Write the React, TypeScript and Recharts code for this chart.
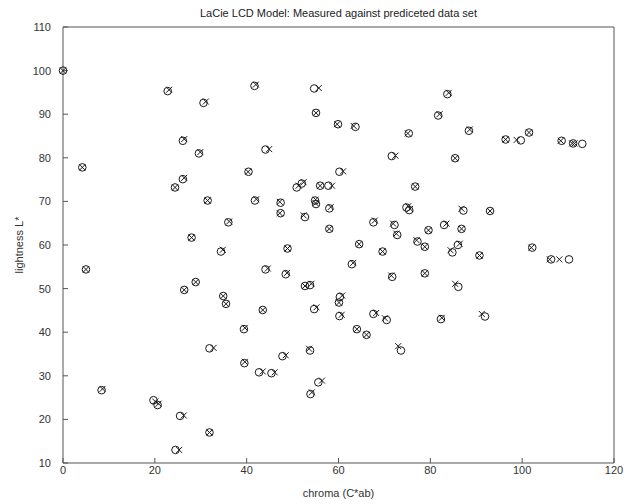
import { ScatterChart, Scatter, XAxis, YAxis } from "recharts";

const TITLE = "LaCie LCD Model: Measured against prediceted data set";
const X_TICKS = [0, 20, 40, 60, 80, 100, 120];
const Y_TICKS = [10, 20, 30, 40, 50, 60, 70, 80, 90, 100, 110];

// measured (circles)
const measuredC = [
  0, 22.8, 30.6, 26.1, 29.6, 4.2, 26.1, 24.4, 41.7, 54.7, 55.1, 59.9, 63.7, 75.3, 44.1, 71.6, 40.4, 60.2, 50.9, 52.0,
  56.0, 57.8, 76.7, 83.7, 81.7, 88.4, 101.5, 96.4, 99.7, 108.6, 111.1, 113.1, 85.4, 31.5, 36.0, 28.0, 34.4, 5.0, 28.9, 26.4,
  34.9, 35.5, 39.4, 41.8, 47.4, 47.4, 54.9, 55.1, 58.0, 52.7, 58.0, 74.8, 75.4, 67.6, 72.2, 72.8, 77.2, 78.8, 48.9, 64.5,
  69.6, 62.9, 44.1, 48.5, 71.7, 52.7, 53.8, 60.3, 60.1, 43.5, 54.7, 60.2, 67.6, 70.5, 64.0, 66.1, 87.2, 93.0, 83.0, 79.6,
  86.8, 86.0, 84.8, 90.7, 102.2, 106.3, 110.2, 78.8, 86.1, 82.3, 91.9, 31.9, 39.5, 8.4, 19.7, 20.6, 25.5, 31.9, 24.5, 73.6,
  42.7, 45.4, 47.8, 53.8, 55.6, 53.9,
];
const measuredL = [
  100, 95.3, 92.6, 83.9, 81.0, 77.8, 75.1, 73.2, 96.5, 95.9, 90.3, 87.7, 87.1, 85.6, 81.9, 80.4, 76.8, 76.8, 73.2, 74.1,
  73.6, 73.6, 73.4, 94.6, 89.7, 86.2, 85.8, 84.2, 84.0, 83.9, 83.3, 83.2, 79.9, 70.2, 65.2, 61.7, 58.5, 54.4, 51.5, 49.7,
  48.3, 46.5, 40.7, 70.2, 69.7, 67.3, 70.2, 69.4, 68.4, 66.4, 63.7, 68.6, 68.0, 65.2, 64.6, 62.3, 60.8, 59.6, 59.2, 60.2,
  58.5, 55.6, 54.4, 53.3, 52.7, 50.6, 50.8, 48.1, 46.8, 45.1, 45.3, 43.7, 44.2, 42.8, 40.7, 39.4, 67.9, 67.8, 64.6, 63.4,
  63.7, 60.0, 58.3, 57.6, 59.4, 56.7, 56.7, 53.5, 50.4, 43.0, 43.6, 36.3, 32.9, 26.7, 24.4, 23.3, 20.8, 17.0, 13.0, 35.8,
  30.8, 30.6, 34.5, 35.8, 28.5, 25.8,
];

// predicted (crosses)
const predictedC = [
  0, 23.1, 31.1, 26.4, 29.9, 4.2, 26.4, 24.4, 42.0, 55.7, 55.1, 59.7, 63.3, 75.1, 44.9, 72.4, 40.3, 61.0, 51.3, 52.4,
  56.0, 58.6, 76.7, 84.0, 82.0, 88.6, 101.5, 96.4, 98.8, 108.4, 110.9, 111.4, 85.4, 31.5, 36.2, 28.0, 34.8, 5.0, 28.9, 26.4,
  34.9, 35.5, 39.6, 42.1, 47.2, 47.2, 55.0, 55.0, 58.3, 52.4, 58.0, 75.2, 75.6, 67.9, 71.9, 72.6, 77.0, 78.8, 48.9, 64.5,
  69.6, 63.2, 44.6, 48.8, 71.5, 52.7, 54.1, 60.8, 60.1, 43.5, 55.2, 60.7, 68.2, 70.1, 64.0, 66.1, 86.8, 93.0, 83.5, 79.6,
  86.8, 86.4, 84.4, 90.7, 102.0, 106.0, 108.1, 78.8, 85.4, 82.5, 91.2, 32.8, 39.6, 8.6, 20.1, 20.8, 26.3, 31.9, 25.3, 73.0,
  43.5, 46.1, 48.5, 53.6, 56.4, 54.2,
];
const predictedL = [
  100, 95.6, 92.9, 84.3, 81.3, 77.8, 75.4, 73.2, 96.8, 96.0, 90.3, 87.7, 87.3, 85.6, 82.0, 80.5, 76.8, 76.9, 73.6, 74.4,
  73.6, 73.6, 73.4, 94.9, 90.0, 86.5, 85.8, 84.2, 84.1, 83.9, 83.3, 83.3, 79.9, 70.2, 65.4, 61.7, 58.9, 54.4, 51.5, 49.7,
  48.3, 46.5, 41.0, 70.5, 69.9, 67.3, 70.4, 69.6, 68.7, 66.8, 63.7, 68.9, 68.3, 65.6, 64.9, 62.6, 61.1, 59.6, 59.2, 60.2,
  58.5, 55.9, 54.6, 53.6, 53.0, 50.6, 51.1, 48.4, 46.8, 45.1, 45.7, 44.0, 44.4, 43.2, 40.7, 39.4, 68.3, 67.8, 64.9, 63.4,
  63.7, 60.3, 58.8, 57.6, 59.4, 56.7, 56.7, 53.5, 51.1, 43.3, 44.2, 36.4, 33.2, 27.0, 24.1, 23.6, 20.9, 17.0, 13.0, 36.8,
  31.0, 30.8, 34.7, 36.2, 28.9, 26.2,
];

const measured = measuredC.map((c, i) => ({ c, l: measuredL[i] }));
const predicted = predictedC.map((c, i) => ({ c, l: predictedL[i] }));

const INK = "#1a1a1a";
const AXIS = "#555";
const FONT = "'Liberation Sans', Arial, sans-serif";
const TICK = { fontSize: 11, fill: "#333", fontFamily: FONT };

const Ring = (p: any) => <circle cx={p.cx} cy={p.cy} r={3.8} fill="none" stroke={INK} strokeWidth={1} />;
const Cross = (p: any) => (
  <path
    d={`M${p.cx - 3},${p.cy - 3}L${p.cx + 3},${p.cy + 3}M${p.cx + 3},${p.cy - 3}L${p.cx - 3},${p.cy + 3}`}
    stroke={INK}
    strokeWidth={1}
    fill="none"
  />
);

export default function App() {
  return (
    <div style={{ width: 625, height: 504, background: "#fff" }}>
      <style>{"body{margin:0}"}</style>
      <ScatterChart width={625} height={504} margin={{ top: 26, right: 10, bottom: 0, left: 0 }}>
        <XAxis
          xAxisId="b"
          type="number"
          dataKey="c"
          domain={[0, 120]}
          ticks={X_TICKS}
          height={41}
          stroke={AXIS}
          tickSize={-5}
          tickMargin={8}
          tick={TICK}
          label={{ value: "chroma (C*ab)", position: "insideBottom", offset: 7, style: { fontSize: 11, fill: "#333", fontFamily: FONT } }}
        />
        <XAxis
          xAxisId="t"
          orientation="top"
          type="number"
          dataKey="c"
          domain={[0, 120]}
          ticks={X_TICKS}
          height={1}
          stroke={AXIS}
          tickSize={-5}
          tick={false}
          label={{ value: TITLE, position: "top", offset: 9, style: { fontSize: 11, fill: "#222", fontFamily: FONT } }}
        />
        <YAxis
          yAxisId="l"
          type="number"
          dataKey="l"
          domain={[10, 110]}
          ticks={Y_TICKS}
          width={63}
          stroke={AXIS}
          tickSize={-5}
          tickMargin={17}
          tick={TICK}
          label={{
            value: "lightness L*",
            angle: -90,
            position: "insideLeft",
            offset: 19,
            style: { textAnchor: "middle", fontSize: 11, fill: "#333", fontFamily: FONT },
          }}
        />
        <YAxis
          yAxisId="r"
          orientation="right"
          type="number"
          dataKey="l"
          domain={[10, 110]}
          ticks={Y_TICKS}
          width={1}
          stroke={AXIS}
          tickSize={-5}
          tick={false}
        />
        <Scatter name="measured" data={measured} xAxisId="b" yAxisId="l" shape={Ring} isAnimationActive={false} />
        <Scatter name="predicted" data={predicted} xAxisId="t" yAxisId="r" shape={Cross} isAnimationActive={false} />
      </ScatterChart>
    </div>
  );
}
